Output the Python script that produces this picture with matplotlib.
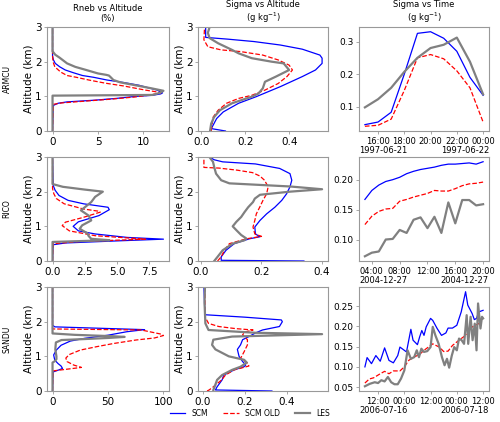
import numpy as np
import pandas as pd
import matplotlib
matplotlib.use("Agg")
import matplotlib.pyplot as plt
import matplotlib.dates as mdates
from matplotlib.ticker import MultipleLocator

# ---------------- ARMCU profiles ----------------
armcu_rneb_scm_z = [0, 0.74, 0.8, 0.84, 0.89, 0.94, 0.99, 1.03, 1.07, 1.1, 1.18, 1.25, 1.32, 1.4, 1.47, 1.55, 1.6, 1.68, 1.76, 1.85, 1.95, 2.05, 2.15, 3.0]
armcu_rneb_scm = [0, 0.1, 0.6, 1.6, 4.7, 7.0, 8.8, 11.0, 11.9, 12.1, 11.5, 10.5, 9.5, 7.8, 6.0, 4.5, 3.3, 2.3, 1.4, 0.8, 0.3, 0.1, 0, 0]
armcu_rneb_old_z = [0, 0.77, 0.81, 0.86, 0.92, 0.98, 1.04, 1.1, 1.14, 1.18, 1.24, 1.3, 1.38, 1.47, 1.55, 1.6, 1.7, 1.85, 2.0, 2.2, 3.0]
armcu_rneb_old = [0, 0.1, 1.0, 3.5, 6.5, 9.0, 10.8, 11.9, 11.2, 10.2, 9.0, 7.8, 5.8, 4.0, 2.6, 1.6, 0.9, 0.25, 0.05, 0, 0]
armcu_rneb_les_z = [0, 1.02, 1.04, 1.1, 1.16, 1.23, 1.32, 1.4, 1.47, 1.55, 1.6, 1.62, 1.66, 1.76, 1.85, 1.95, 2.05, 2.12, 2.2, 2.3, 3.0]
armcu_rneb_les = [0, 0, 11.0, 11.8, 12.2, 10.9, 9.1, 7.5, 6.7, 6.4, 6.2, 5.9, 5.0, 3.7, 2.5, 1.6, 1.1, 0.75, 0.3, 0, 0]

armcu_sig_scm_z = [0, 0.07, 0.12, 0.36, 0.55, 0.8, 0.99, 1.28, 1.57, 1.76, 1.95, 2.1, 2.19, 2.36, 2.48, 2.58, 2.65, 2.7, 3.0]
armcu_sig_scm = [0.11, 0.045, 0.05, 0.07, 0.10, 0.17, 0.25, 0.36, 0.46, 0.52, 0.55, 0.55, 0.54, 0.46, 0.36, 0.24, 0.12, 0.02, 0.02]
armcu_sig_old_z = [0, 0.4, 0.6, 0.8, 0.94, 1.03, 1.18, 1.37, 1.57, 1.76, 1.9, 2.05, 2.19, 2.29, 2.34, 2.43, 2.63, 3.0]
armcu_sig_old = [0.045, 0.054, 0.077, 0.115, 0.17, 0.23, 0.29, 0.35, 0.39, 0.415, 0.4, 0.35, 0.28, 0.18, 0.09, 0.03, 0.012, 0.015]
armcu_sig_les_z = [0, 0.21, 0.4, 0.6, 0.8, 0.99, 1.08, 1.23, 1.42, 1.57, 1.76, 1.95, 2.0, 2.1, 2.24, 2.34, 2.53, 2.68, 2.83, 3.0]
armcu_sig_les = [0.04, 0.045, 0.058, 0.085, 0.14, 0.23, 0.26, 0.28, 0.29, 0.34, 0.4, 0.375, 0.32, 0.23, 0.17, 0.14, 0.077, 0.038, 0.03, 0.038]

# ---------------- RICO profiles ----------------
rico_rneb_scm_z = [0, 0.47, 0.52, 0.58, 0.63, 0.68, 0.78, 0.87, 1.0, 1.13, 1.31, 1.48, 1.55, 1.65, 1.75, 1.89, 2.04, 2.18, 3.0]
rico_rneb_scm = [0, 0.05, 1.0, 5.0, 8.6, 5.8, 3.3, 2.0, 1.6, 2.0, 3.6, 4.4, 4.3, 2.4, 1.2, 0.5, 0.2, 0.05, 0]
rico_rneb_old_z = [0, 0.5, 0.56, 0.63, 0.73, 0.87, 1.02, 1.12, 1.26, 1.41, 1.44, 1.5, 1.65, 1.8, 1.94, 2.09, 3.0]
rico_rneb_old = [0, 0.05, 2.0, 7.2, 3.3, 1.3, 0.75, 1.0, 2.4, 3.7, 3.5, 2.4, 0.9, 0.3, 0.1, 0, 0]
rico_rneb_les_z = [0, 0.55, 0.6, 0.64, 0.72, 0.8, 0.93, 1.03, 1.17, 1.31, 1.46, 1.55, 1.7, 1.85, 2.0, 2.06, 2.14, 2.22, 3.0]
rico_rneb_les = [0, 0, 4.4, 3.0, 2.8, 2.7, 2.1, 2.3, 3.0, 2.8, 2.2, 2.5, 3.0, 3.3, 3.9, 2.5, 0.8, 0, 0]

rico_sig_scm_z = [0, 0.02, 0.12, 0.31, 0.5, 0.64, 0.7, 0.78, 0.98, 1.17, 1.36, 1.55, 1.75, 1.94, 2.14, 2.33, 2.52, 2.67, 2.8, 2.86, 2.92, 3.0]
rico_sig_scm = [0.34, 0.067, 0.067, 0.083, 0.11, 0.16, 0.195, 0.18, 0.178, 0.195, 0.217, 0.244, 0.267, 0.283, 0.294, 0.3, 0.294, 0.26, 0.18, 0.072, 0.044, 0.028]
rico_sig_old_z = [0, 0.12, 0.31, 0.5, 0.64, 0.71, 0.78, 0.98, 1.17, 1.36, 1.55, 1.75, 1.94, 2.14, 2.33, 2.45, 2.55, 2.62, 2.68, 2.7, 3.0]
rico_sig_old = [0.055, 0.067, 0.078, 0.094, 0.15, 0.2, 0.178, 0.172, 0.178, 0.183, 0.194, 0.205, 0.217, 0.222, 0.21, 0.195, 0.17, 0.12, 0.06, 0.01, 0.01]
rico_sig_les_z = [0, 0.12, 0.31, 0.5, 0.6, 0.65, 0.75, 0.89, 1.0, 1.13, 1.27, 1.41, 1.55, 1.7, 1.8, 1.91, 2.0, 2.07, 2.15, 2.24, 2.33, 2.52, 2.71, 2.86, 3.0]
rico_sig_les = [0.044, 0.055, 0.072, 0.105, 0.144, 0.15, 0.133, 0.117, 0.105, 0.117, 0.133, 0.144, 0.156, 0.172, 0.178, 0.195, 0.294, 0.4, 0.294, 0.094, 0.067, 0.05, 0.044, 0.04, 0.028]

# ---------------- SANDU profiles ----------------
sandu_rneb_scm_z = [0, 0.55, 0.6, 0.65, 0.72, 0.79, 0.89, 1.04, 1.18, 1.32, 1.44, 1.52, 1.61, 1.71, 1.77, 1.85, 1.9, 3.0]
sandu_rneb_scm = [0, 0.5, 5, 9, 7.7, 5, 2, 1, 3.4, 7.7, 16, 29, 50, 67, 83, 2, 0, 0]
sandu_rneb_old_z = [0, 0.58, 0.68, 0.75, 0.85, 0.95, 1.05, 1.18, 1.28, 1.37, 1.47, 1.53, 1.6, 1.64, 1.76, 1.79, 3.0]
sandu_rneb_old = [0, 0.5, 26, 19, 13, 12, 15, 25, 40, 55, 75, 92, 100, 98, 80, 0, 0]
sandu_rneb_les_z = [0, 0.82, 0.86, 0.92, 1.0, 1.2, 1.4, 1.47, 1.5, 1.53, 1.56, 1.58, 1.62, 1.66, 3.0]
sandu_rneb_les = [0, 0, 2, 3.5, 3.5, 2.5, 3, 8, 30, 50, 65, 55, 20, 0, 0]

sandu_sig_scm_z = [0, 0.03, 0.12, 0.32, 0.46, 0.61, 0.7, 0.75, 0.85, 1.0, 1.2, 1.33, 1.48, 1.57, 1.67, 1.76, 1.86, 2.0, 2.05, 2.13, 2.2, 3.0]
sandu_sig_scm = [0.33, 0.06, 0.068, 0.092, 0.1, 0.15, 0.197, 0.205, 0.19, 0.173, 0.165, 0.18, 0.19, 0.22, 0.25, 0.285, 0.366, 0.38, 0.375, 0.2, 0.01, 0.005]
sandu_sig_old_z = [0, 0.03, 0.12, 0.32, 0.46, 0.61, 0.72, 0.8, 0.94, 1.13, 1.33, 1.48, 1.62, 1.7, 1.76, 1.8, 1.86, 1.95, 2.14, 3.0]
sandu_sig_old = [0.02, 0.03, 0.05, 0.09, 0.108, 0.15, 0.22, 0.215, 0.18, 0.197, 0.213, 0.213, 0.19, 0.2, 0.24, 0.156, 0.076, 0.027, 0.01, 0.01]
sandu_sig_les_z = [0, 0.03, 0.12, 0.32, 0.46, 0.61, 0.7, 0.82, 0.9, 1.0, 1.2, 1.33, 1.48, 1.57, 1.64, 1.68, 1.76, 1.95, 2.24, 2.54, 3.0]
sandu_sig_les = [0.05, 0.05, 0.056, 0.068, 0.092, 0.14, 0.18, 0.21, 0.197, 0.124, 0.06, 0.044, 0.05, 0.14, 0.57, 0.25, 0.027, 0.012, 0.01, 0.008, 0.01]

# ---------------- time series (hours after start) ----------------
armcu_start = "1997-06-21 15:00"
armcu_t = [0, 1, 2, 3, 4, 5, 6, 7, 8, 9]
armcu_ts_scm = [0.045, 0.053, 0.083, 0.20, 0.325, 0.33, 0.31, 0.27, 0.19, 0.135]
armcu_ts_old = [0.04, 0.043, 0.062, 0.15, 0.25, 0.26, 0.247, 0.21, 0.158, 0.053]
armcu_ts_les = [0.098, 0.123, 0.158, 0.207, 0.25, 0.28, 0.29, 0.312, 0.238, 0.138]

rico_start = "2004-12-27 03:00"
rico_t = list(range(18))
rico_ts_scm = [0.167, 0.182, 0.191, 0.197, 0.200, 0.204, 0.21, 0.214, 0.217, 0.219, 0.221, 0.224, 0.226, 0.226, 0.227, 0.228, 0.226, 0.23]
rico_ts_old = [0.125, 0.139, 0.147, 0.151, 0.152, 0.164, 0.167, 0.171, 0.174, 0.177, 0.182, 0.181, 0.181, 0.185, 0.19, 0.193, 0.194, 0.196]
rico_ts_les = [0.072, 0.078, 0.080, 0.10, 0.101, 0.116, 0.111, 0.133, 0.137, 0.119, 0.138, 0.111, 0.162, 0.127, 0.166, 0.166, 0.157, 0.159]

sandu_start = "2006-07-16 06:00"
sandu_t_scm = [0, 1, 3, 5, 7, 9, 11, 13, 15, 16, 18, 19, 21, 22, 24, 25, 26, 27, 28, 30, 31, 33, 35, 37, 38, 40, 42, 44, 46, 47, 49, 50, 51, 52, 54]
sandu_ts_scm = [0.10, 0.123, 0.108, 0.128, 0.114, 0.147, 0.116, 0.11, 0.128, 0.149, 0.141, 0.137, 0.193, 0.166, 0.155, 0.174, 0.19, 0.178, 0.199, 0.22,
                0.215, 0.195, 0.178, 0.184, 0.196, 0.196, 0.203, 0.236, 0.286, 0.253, 0.232, 0.217, 0.22, 0.236, 0.24]
sandu_t_old = [0, 2, 4, 7, 9, 11, 13, 16, 18, 20, 22, 25, 27, 29, 31, 34, 36, 38, 40, 43, 45, 47, 49, 52, 54]
sandu_ts_old = [0.06, 0.07, 0.073, 0.083, 0.089, 0.083, 0.09, 0.09, 0.10, 0.116, 0.123, 0.131, 0.141, 0.149, 0.157, 0.149, 0.138, 0.139, 0.153,
                0.166, 0.174, 0.182, 0.199, 0.207, 0.222]
sandu_t_les = [0, 2.2, 4.5, 6, 7.5, 9, 10.5, 12, 13.5, 15, 16.5, 18, 19.5, 21, 22.5, 23.7, 24.7, 25.8, 27, 28.5, 30, 31, 32.2, 33.7, 35.2, 36.4,
               37.5, 38.5, 39.7, 40.8, 42, 43, 44.2, 45.3, 46.5, 47.2, 48.3, 49.2, 50.2, 51, 51.7, 52.8, 53.5, 54]
sandu_ts_les = [0.052, 0.058, 0.062, 0.06, 0.067, 0.064, 0.075, 0.062, 0.057, 0.057, 0.071, 0.091, 0.141, 0.12, 0.124, 0.141, 0.124, 0.145,
                0.137, 0.139, 0.149, 0.199, 0.178, 0.157, 0.124, 0.104, 0.12, 0.098, 0.128, 0.149, 0.141, 0.17, 0.166, 0.157, 0.228, 0.157,
                0.224, 0.166, 0.207, 0.141, 0.257, 0.195, 0.224, 0.22]

cases = ["ARMCU", "RICO", "SANDU"]
col_titles = ["Rneb vs Altitude\n(%)", "Sigma vs Altitude\n(g kg$^{-1}$)", "Sigma vs Time\n(g kg$^{-1}$)"]
date_labels = [("1997-06-21", "1997-06-22"), ("2004-12-27", "2004-12-27"), ("2006-07-16", "2006-07-18")]
# x tick spacing of the profile panels: (Rneb, Sigma) per case
x_steps = [(5, 0.2), (2.5, 0.2), (50, 0.2)]

C_SCM = dict(color="blue", lw=0.9, ls="-")
C_OLD = dict(color="red", lw=0.9, ls="--")
C_LES = dict(color="gray", lw=1.6, ls="-")


def to_time(start, hours):
    return pd.Timestamp(start) + pd.to_timedelta(hours, unit="h")


W, H = 500, 422
fig = plt.figure(figsize=(W / 100, H / 100), dpi=100)

col_left = [47, 198, 359]
col_w = [122, 130, 130]
row_top = [27, 157, 287]
ax_h = 104

profiles = [
    [(armcu_rneb_scm, armcu_rneb_scm_z, armcu_rneb_old, armcu_rneb_old_z, armcu_rneb_les, armcu_rneb_les_z),
     (armcu_sig_scm, armcu_sig_scm_z, armcu_sig_old, armcu_sig_old_z, armcu_sig_les, armcu_sig_les_z)],
    [(rico_rneb_scm, rico_rneb_scm_z, rico_rneb_old, rico_rneb_old_z, rico_rneb_les, rico_rneb_les_z),
     (rico_sig_scm, rico_sig_scm_z, rico_sig_old, rico_sig_old_z, rico_sig_les, rico_sig_les_z)],
    [(sandu_rneb_scm, sandu_rneb_scm_z, sandu_rneb_old, sandu_rneb_old_z, sandu_rneb_les, sandu_rneb_les_z),
     (sandu_sig_scm, sandu_sig_scm_z, sandu_sig_old, sandu_sig_old_z, sandu_sig_les, sandu_sig_les_z)],
]

series = [
    (to_time(armcu_start, armcu_t), armcu_ts_scm, to_time(armcu_start, armcu_t), armcu_ts_old, to_time(armcu_start, armcu_t), armcu_ts_les),
    (to_time(rico_start, rico_t), rico_ts_scm, to_time(rico_start, rico_t), rico_ts_old, to_time(rico_start, rico_t), rico_ts_les),
    (to_time(sandu_start, sandu_t_scm), sandu_ts_scm, to_time(sandu_start, sandu_t_old), sandu_ts_old,
     to_time(sandu_start, sandu_t_les), sandu_ts_les),
]
locators = [mdates.HourLocator(byhour=[16, 18, 20, 22, 0]),
            mdates.HourLocator(byhour=[4, 8, 12, 16, 20]),
            mdates.HourLocator(byhour=[0, 12])]
y_steps = [0.1, 0.05, 0.05]


def style(ax, xsize=7.5, ysize=7.5):
    for s in ax.spines.values():
        s.set_color("0.6")
    ax.tick_params(colors="0.6", labelcolor="black", length=2.5, width=0.6, pad=1.5)
    ax.tick_params(axis="y", labelsize=ysize)
    ax.tick_params(axis="x", labelsize=xsize)


legend_ax = None
for r in range(3):
    for c in range(3):
        rect = [col_left[c] / W, 1 - (row_top[r] + ax_h) / H, col_w[c] / W, ax_h / H]
        ax = fig.add_axes(rect)
        if c < 2:
            xs, zs, xo, zo, xl, zl = profiles[r][c]
            ax.plot(xs, zs, **C_SCM, label="SCM")
            ax.plot(xo, zo, **C_OLD, label="SCM OLD")
            ax.plot(xl, zl, **C_LES, label="LES")
            ax.set_ylim(0, 3)
            ax.set_yticks([0, 1, 2, 3])
            ax.xaxis.set_major_locator(MultipleLocator(x_steps[r][c]))
            ax.set_ylabel("Altitude (km)", fontsize=7.5, labelpad=1)
            style(ax)
            if legend_ax is None:
                legend_ax = ax
        else:
            ts, vs, to, vo, tl, vl = series[r]
            ax.plot(ts, vs, **C_SCM)
            ax.plot(to, vo, **C_OLD)
            ax.plot(tl, vl, **C_LES)
            ax.xaxis.set_major_locator(locators[r])
            ax.xaxis.set_major_formatter(mdates.DateFormatter("%H:%M"))
            ax.yaxis.set_major_locator(MultipleLocator(y_steps[r]))
            style(ax, xsize=6, ysize=6.5)
            ax.text(0, -0.19, date_labels[r][0], transform=ax.transAxes, ha="left", va="center", fontsize=6)
            ax.text(1, -0.19, date_labels[r][1], transform=ax.transAxes, ha="right", va="center", fontsize=6)
        if r == 0:
            ax.set_title(col_titles[c], fontsize=6, pad=4)
    fig.text(7 / W, 1 - (row_top[r] + ax_h / 2) / H, cases[r], rotation=90, ha="center", va="center", fontsize=5.5)

h, l = legend_ax.get_legend_handles_labels()
fig.legend(h, l, loc="center", bbox_to_anchor=(0.5, 1 - 413 / H), ncol=3, frameon=False, fontsize=5.5)

fig.savefig("out.png", dpi=100)
